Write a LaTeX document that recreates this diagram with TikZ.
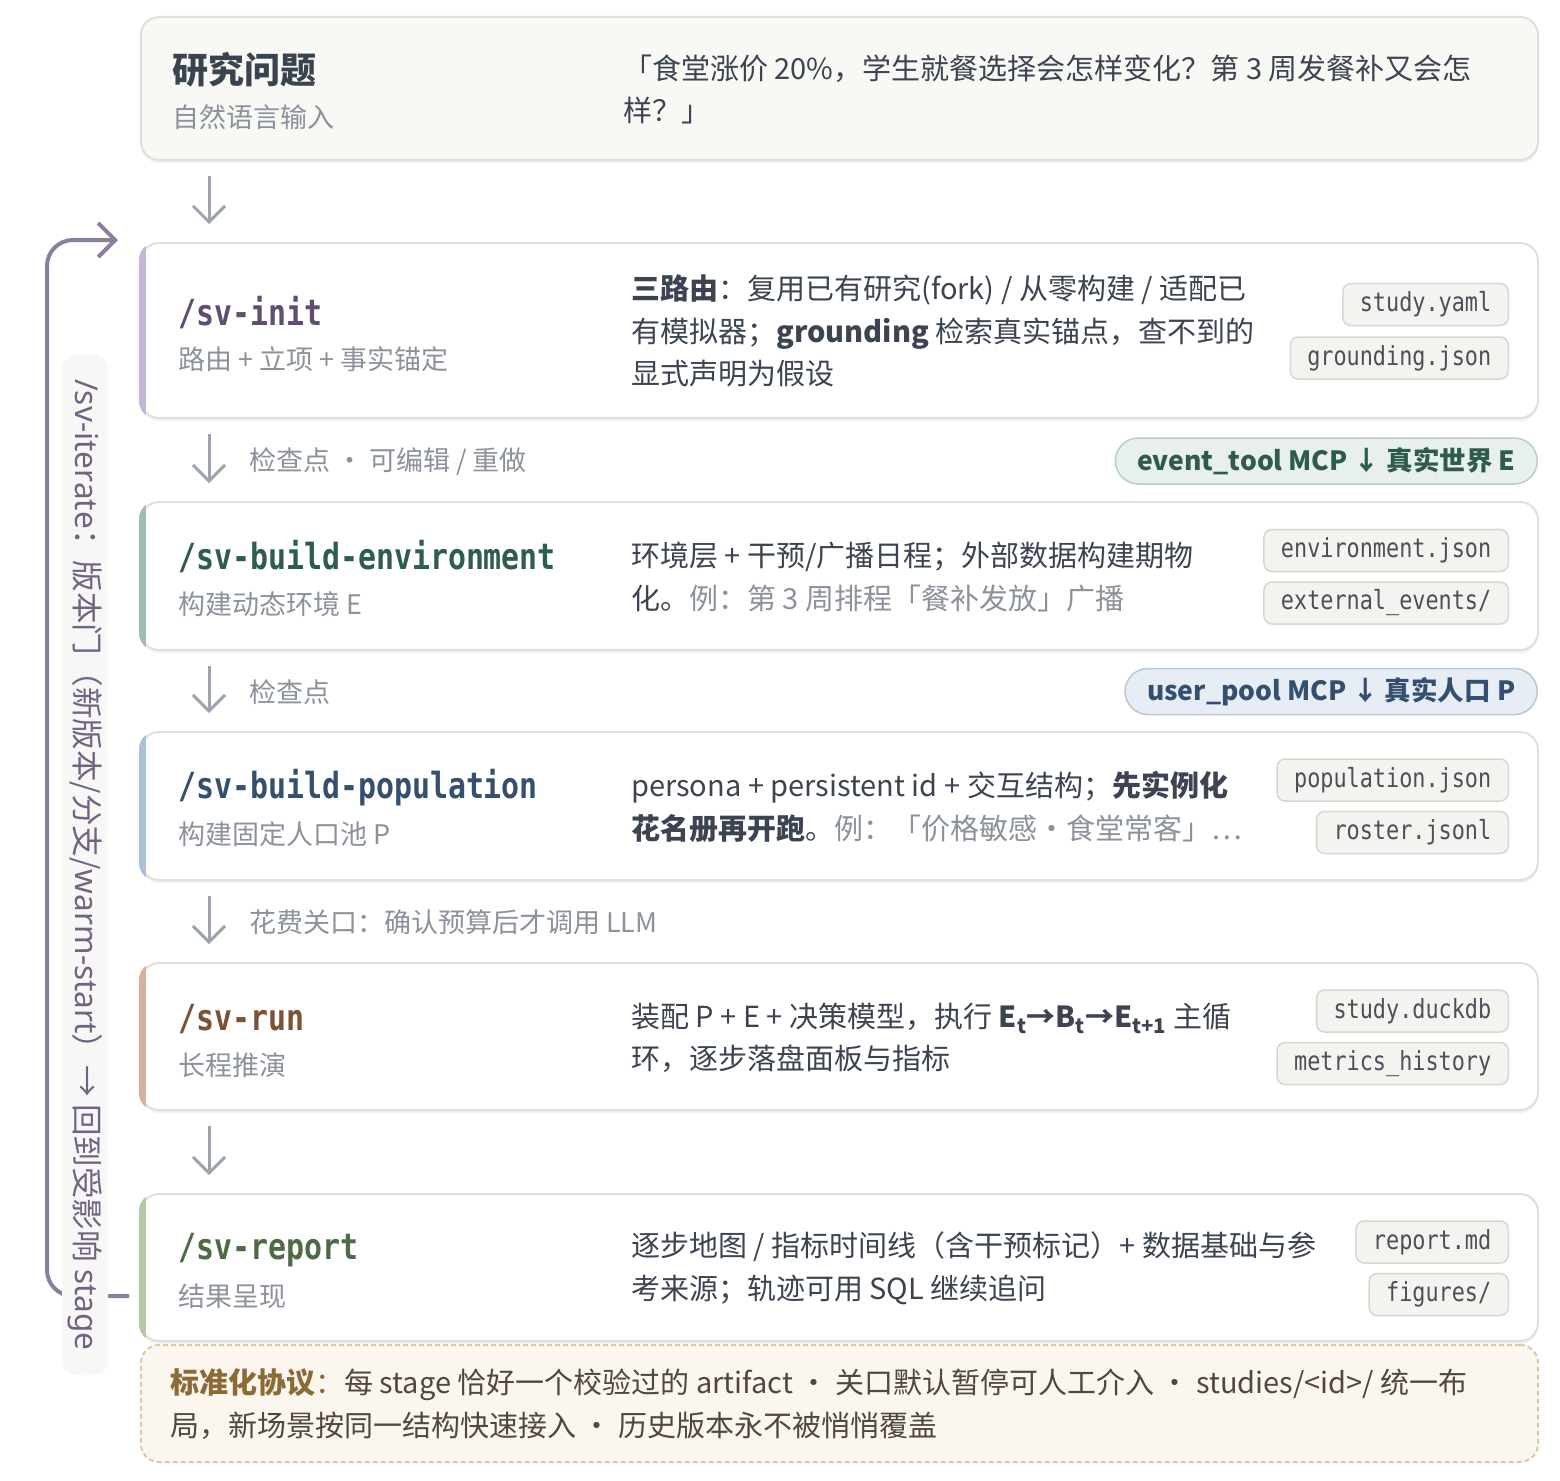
\documentclass[tikz,border=0pt]{standalone}
\usepackage{fontspec}
\setmainfont{Noto Sans CJK SC}
\newfontfamily\monof[FakeStretch=0.83]{DejaVu Sans Mono}
\newfontfamily\latinf{Noto Sans}
\usetikzlibrary{arrows.meta,shadows}
\definecolor{bordercol}{HTML}{E2DFD8}
\definecolor{topfill}{HTML}{F8F8F5}
\definecolor{descfg}{HTML}{3B4450}
\definecolor{subfg}{HTML}{8B929B}
\definecolor{arrowcol}{HTML}{9BA4AF}
\definecolor{loopcol}{HTML}{8A7F9E}
\definecolor{looptext}{HTML}{6E6585}
\definecolor{loopbg}{HTML}{F8F7F5}
\definecolor{tagfill}{HTML}{F4F3EF}
\definecolor{tagdraw}{HTML}{D9D6CD}
\definecolor{tagtext}{HTML}{4B5058}
\definecolor{tinit}{HTML}{5F4D72}
\definecolor{accinit}{HTML}{C5B6D4}
\definecolor{tenv}{HTML}{2E5D50}
\definecolor{accenv}{HTML}{9DBFB3}
\definecolor{tpop}{HTML}{34506E}
\definecolor{accpop}{HTML}{AEC0D6}
\definecolor{trun}{HTML}{7B5233}
\definecolor{accrun}{HTML}{D6B29C}
\definecolor{trep}{HTML}{4E6B45}
\definecolor{accrep}{HTML}{B4C9A8}
\definecolor{evfill}{HTML}{E7F0EB}
\definecolor{evdraw}{HTML}{B7D0C4}
\definecolor{evtext}{HTML}{2F5B4E}
\definecolor{upfill}{HTML}{E7EDF5}
\definecolor{updraw}{HTML}{B9C7D9}
\definecolor{uptext}{HTML}{34506E}
\definecolor{protofill}{HTML}{FBF7EF}
\definecolor{protodraw}{HTML}{DCC9A8}
\definecolor{protolab}{HTML}{8B6A36}
\definecolor{prototext}{HTML}{4F4740}
\definecolor{headfg}{HTML}{3A4350}
\begin{document}
\begin{tikzpicture}[x=1pt,y=-1pt,
  stagebox/.style={draw=bordercol, line width=2pt, fill=white, rounded corners=18pt,
    minimum width=1397pt, inner sep=0pt,
    drop shadow={shadow xshift=0pt, shadow yshift=-3pt, opacity=0.05, fill=black}},
  titlef/.style={anchor=west, inner sep=0pt, font=\monof\bfseries\fontsize{36}{40}\selectfont},
  subf/.style={anchor=west, inner sep=0pt, text=subfg, font=\fontsize{27}{32}\selectfont},
  descf/.style={anchor=west, inner sep=0pt, text=descfg, align=left, font=\fontsize{29}{42.5}\selectfont},
  tagbox/.style={anchor=east, draw=tagdraw, fill=tagfill, line width=1.5pt, rounded corners=8pt,
    text=tagtext, inner xsep=17pt, inner ysep=0pt, minimum height=42pt,
    font=\monof\fontsize{26.3}{30}\selectfont},
  clab/.style={anchor=west, inner sep=0pt, text=subfg, font=\fontsize{27}{32}\selectfont},
  flowarrow/.style={draw=arrowcol, line width=3pt,
    -{Straight Barb[length=16pt,width=32pt,line width=3pt]},
    shorten <=15pt, shorten >=18pt},
  pill/.style={anchor=east, line width=1.5pt, rounded corners=23pt, minimum height=46pt,
    inner xsep=22pt, inner ysep=0pt, font=\bfseries\fontsize{26.5}{32}\selectfont},
]
\useasboundingbox (0,0) rectangle (1560,1480);
\fill[white] (0,0) rectangle (1560,1480);

% ---------- research question ----------
\node[stagebox, fill=topfill, minimum height=143pt] (q) at (839.5,88.5) {};
\node[anchor=west, inner sep=0pt, text=headfg, font=\bfseries\fontsize{36}{40}\selectfont] (qT) at (172,70) {研究问题};
\node[subf] (qS) at (172,117) {自然语言输入};
\node[descf] (qD) at (623,89.5) {「食堂涨价 20\%，学生就餐选择会怎样变化？第 3 周发餐补又会怎\\样？」};

% ---------- stage boxes ----------
\node[stagebox, minimum height=175pt] (init) at (839.5,330.5) {};
\node[stagebox, minimum height=148pt] (env) at (839.5,576) {};
\node[stagebox, minimum height=148pt] (pop) at (839.5,806) {};
\node[stagebox, minimum height=147pt] (run) at (839.5,1036.5) {};
\node[stagebox, minimum height=147pt] (rep) at (839.5,1267.5) {};

\foreach \b/\c in {init/accinit, env/accenv, pop/accpop, run/accrun, rep/accrep}{
  \begin{scope}
    \clip[rounded corners=18pt] ([xshift=-1pt]\b.north west) rectangle ([xshift=1pt]\b.south east);
    \fill[\c] ([xshift=-1pt]\b.north west) rectangle ([xshift=6pt]\b.south west);
  \end{scope}
}

% init
\node[titlef, text=tinit] (initT) at (178,313) {/sv-init};
\node[subf] (initS) at (178,359) {路由 + 立项 + 事实锚定};
\node[descf] (initD) at (631,331) {\textbf{三路由}：复用已有研究(fork) / 从零构建 / 适配已\\有模拟器；\textbf{grounding} 检索真实锚点，查不到的\\显式声明为假设};
\node[tagbox] (initA) at (1509,304.5) {study.yaml};
\node[tagbox] (initB) at (1509,358) {grounding.json};

% env
\node[titlef, text=tenv] (envT) at (178,557) {/sv-build-environment};
\node[subf] (envS) at (178,604) {构建动态环境 E};
\node[descf] (envD) at (631,577) {环境层 + 干预/广播日程；外部数据构建期物\\化。{\color{subfg}例：第 3 周排程「餐补发放」广播}};
\node[tagbox] (envA) at (1509,550.5) {environment.json};
\node[tagbox] (envB) at (1509,603) {external\_events/};

% pop
\node[titlef, text=tpop] (popT) at (178,788) {/sv-build-population};
\node[subf] (popS) at (178,834) {构建固定人口池 P};
\node[descf] (popD) at (631,807) {persona + persistent id + 交互结构；\textbf{先实例化}\\\textbf{花名册再开跑}。{\color{subfg}例：「价格敏感・食堂常客」…}};
\node[tagbox] (popA) at (1509,780) {population.json};
\node[tagbox] (popB) at (1509,832.5) {roster.jsonl};

% run
\node[titlef, text=trun] (runT) at (178,1019) {/sv-run};
\node[subf] (runS) at (178,1065) {长程推演};
\node[descf] (runD) at (631,1038) {装配 P + E + 决策模型，执行 \textbf{E\textsubscript{t}→B\textsubscript{t}→E\textsubscript{t+1}} 主循\\环，逐步落盘面板与指标};
\node[tagbox] (runA) at (1509,1011) {study.duckdb};
\node[tagbox] (runB) at (1509,1063.5) {metrics\_history};

% report
\node[titlef, text=trep] (repT) at (178,1250) {/sv-report};
\node[subf] (repS) at (178,1296) {结果呈现};
\node[descf] (repD) at (631,1268) {逐步地图 / 指标时间线（含干预标记）+ 数据基础与参\\考来源；轨迹可用 SQL 继续追问};
\node[tagbox] (repA) at (1509,1242) {report.md};
\node[tagbox] (repB) at (1509,1294.5) {figures/};

% ---------- protocol box ----------
\node[draw=protodraw, fill=protofill, line width=2pt, dash pattern=on 5pt off 3pt,
  rounded corners=18pt, minimum width=1397pt, minimum height=117pt, inner sep=0pt] (proto) at (839.5,1403.5) {};
\node[anchor=west, inner sep=0pt, align=left, text=prototext, font=\fontsize{29}{43}\selectfont] (protoT) at (170,1404.5)
  {{\color{protolab}\textbf{标准化协议}：}每 stage 恰好一个校验过的 artifact ・ 关口默认暂停可人工介入 ・ studies/<id>/ 统一布\\局，新场景按同一结构快速接入 ・ 历史版本永不被悄悄覆盖};

% ---------- flow arrows ----------
\draw[flowarrow] ([xshift=69pt]q.south west) -- ([xshift=69pt]init.north west);
\draw[flowarrow] ([xshift=69pt]init.south west) -- ([xshift=69pt]env.north west);
\draw[flowarrow] ([xshift=69pt]env.south west) -- ([xshift=69pt]pop.north west);
\draw[flowarrow] ([xshift=69pt]pop.south west) -- ([xshift=69pt]run.north west);
\draw[flowarrow] ([xshift=69pt]run.south west) -- ([xshift=69pt]rep.north west);

\node[clab] (c1) at (249,461) {检查点 ・ 可编辑 / 重做};
\node[clab] (c2) at (249,692) {检查点};
\node[clab] (c3) at (249,922) {花费关口：确认预算后才调用 LLM};

% ---------- pills ----------
\node[pill, fill=evfill, draw=evdraw, text=evtext] (ev) at (1538,461) {event\_tool MCP ↓ 真实世界 E};
\node[pill, fill=upfill, draw=updraw, text=uptext] (up) at (1538,691.5) {user\_pool MCP ↓ 真实人口 P};

% ---------- iterate loop ----------
\coordinate (loopend) at (118,240);
\draw[loopcol, line width=4pt, rounded corners=26pt,
  -{Straight Barb[length=17pt,width=34pt,line width=4pt]}]
  ([xshift=-11pt,yshift=-28.5pt]rep.west) -- (47,1296) -- (47,240) -- (loopend);
\node[rotate=-90, fill=loopbg, rounded corners=14pt, text=looptext, inner sep=0pt,
  minimum width=1020pt, minimum height=46pt, font=\fontsize{31.6}{35}\selectfont] (loopL) at (85,865)
  {{\latinf /sv-iterate}：版本门（新版本/分支/{\latinf warm-start}）→ 回到受影响 {\latinf stage}};
\end{tikzpicture}
\end{document}
